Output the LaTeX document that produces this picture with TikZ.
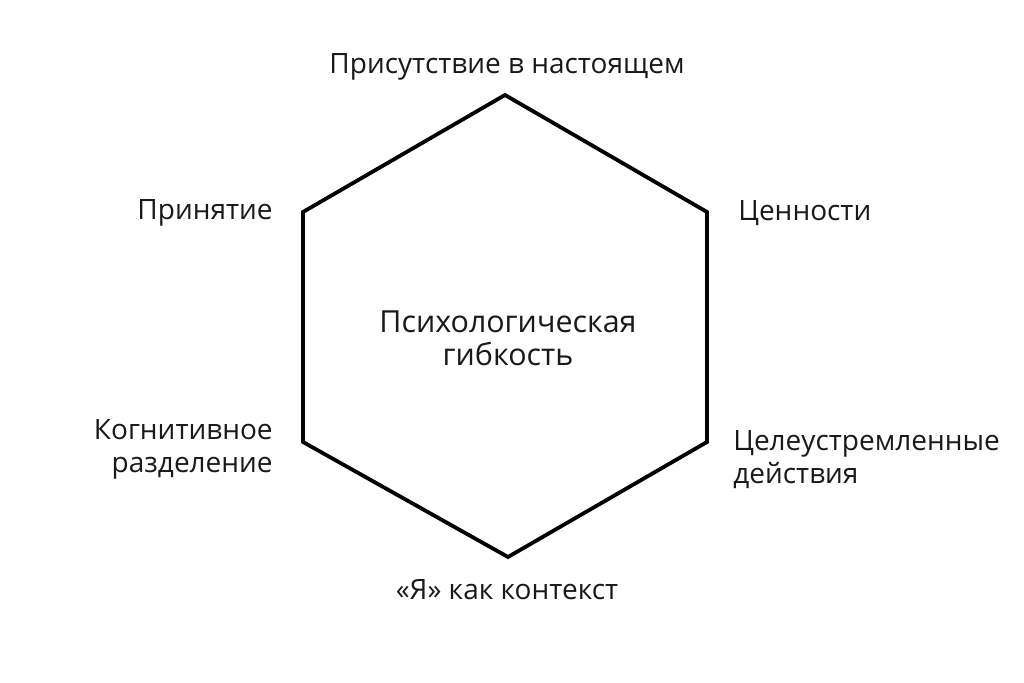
\documentclass[tikz,border=0pt]{standalone}
\usepackage{fontspec}
\setmainfont{Open Sans}
\begin{document}
\begin{tikzpicture}[x=0.5pt,y=-0.5pt,
  lbl/.style={font=\fontsize{14}{16.5}\selectfont, inner sep=0pt, text=black!90},
  ctrlbl/.style={font=\fontsize{15.2}{16.5}\selectfont, inner sep=0pt, text=black!90},
  hexline/.style={line width=1.9pt, line join=miter}]
\useasboundingbox[fill=white] (0,0) rectangle (1024,683);
\coordinate (t) at (505,95);
\coordinate (ur) at (707,212);
\coordinate (lr) at (707,442);
\coordinate (b) at (508,557);
\coordinate (ll) at (303,442);
\coordinate (ul) at (303,212);
\draw[hexline] (t) -- (ur) -- (lr) -- (b) -- (ll) -- (ul) -- cycle;
\node[lbl] (top) at (507,67) {Присутствие в настоящем};
\node[lbl, anchor=east] (acc) at (273,213) {Принятие};
\node[lbl, anchor=west] (val) at (738,213) {Ценности};
\node[ctrlbl, align=center] (ctr) at (508,338) {Психологическая\\гибкость};
\node[lbl, align=right, anchor=east] (cog) at (273,449) {Когнитивное\\разделение};
\node[lbl, align=left, anchor=west] (act) at (733,460) {Целеустремленные\\действия};
\node[lbl] (self) at (507,590) {«Я» как контекст};
\end{tikzpicture}
\end{document}
